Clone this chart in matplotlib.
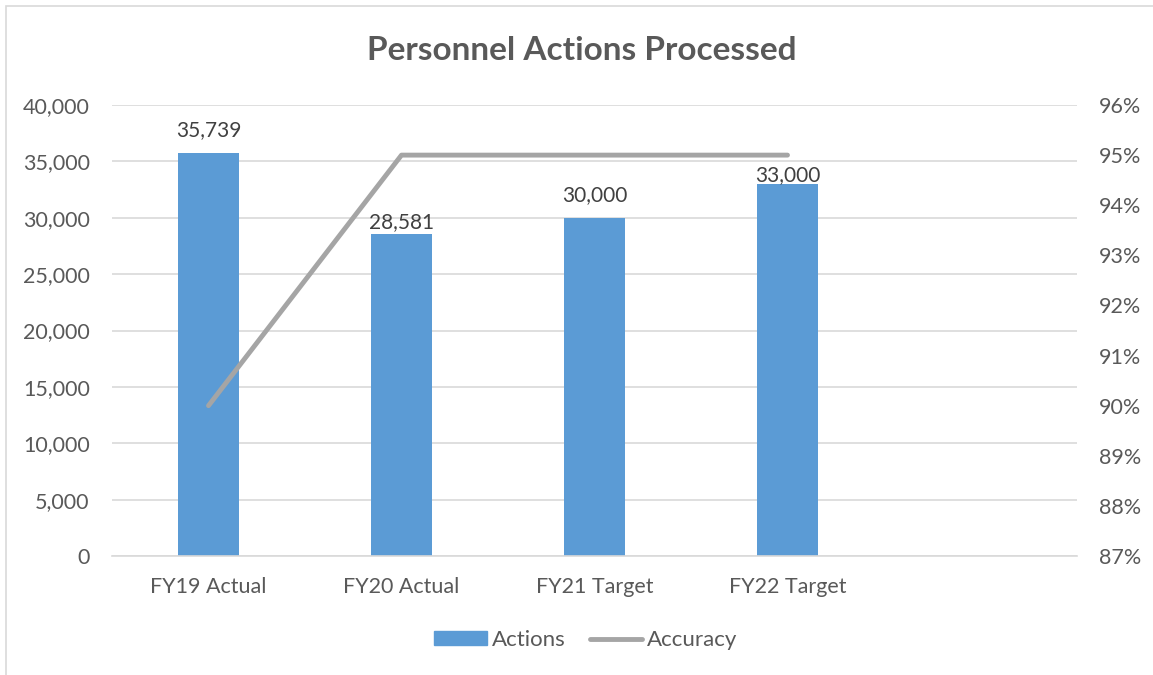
import matplotlib
matplotlib.use("Agg")
import matplotlib.pyplot as plt
from matplotlib.ticker import FuncFormatter, MultipleLocator
from matplotlib.patches import Rectangle
from matplotlib.lines import Line2D

categories = ["FY19 Actual", "FY20 Actual", "FY21 Target", "FY22 Target"]
actions = [35739, 28581, 30000, 33000]
accuracy = [0.90, 0.95, 0.95, 0.95]

# vertical label offsets (points) above each bar, as placed in the reference
label_offsets = [12.2, 4.3, 12.2, 2.2]

plt.rcParams['font.family'] = ['Lato', 'DejaVu Sans']
text_color = "#595959"
bar_color = "#5B9BD5"
line_color = "#A5A5A5"
grid_color = "#D9D9D9"

fig = plt.figure(figsize=(11.53, 6.75), dpi=100)
ax = fig.add_axes([112/1153, 1-556/675, (1077-112)/1153, (556-105)/675])
ax2 = ax.twinx()

x = list(range(len(categories)))
bars = ax.bar(x, actions, width=0.316, color=bar_color, zorder=2)
ax.set_xlim(-0.5, 4.5)
ax.set_ylim(0, 40000)
ax.yaxis.set_major_locator(MultipleLocator(5000))
ax.yaxis.set_major_formatter(FuncFormatter(lambda v, p: f"{int(v):,}"))
ax.set_xticks(x)
ax.set_xticklabels(categories)
ax.grid(axis='y', color=grid_color, linewidth=1.2, zorder=0)
ax.set_axisbelow(True)
for s in ax.spines.values():
    s.set_visible(False)
for s in ax2.spines.values():
    s.set_visible(False)
ax.spines['bottom'].set_visible(True)
ax.spines['bottom'].set_color(grid_color)
ax.spines['bottom'].set_linewidth(1.2)
ax.tick_params(axis='both', length=0, labelsize=15.5, colors=text_color)
ax.tick_params(axis='y', pad=16)
ax.tick_params(axis='x', pad=15)

for xi, v, off in zip(x, actions, label_offsets):
    ax.annotate(f"{v:,}", (xi, v), xytext=(0, off), textcoords='offset points',
                ha='center', va='baseline', fontsize=15, color="#404040", zorder=5)

ax2.plot(x, accuracy, color=line_color, linewidth=3.5, solid_capstyle='round', zorder=3)
ax2.set_ylim(0.87, 0.96)
ax2.yaxis.set_major_locator(MultipleLocator(0.01))
ax2.yaxis.set_major_formatter(FuncFormatter(lambda v, p: f"{round(v*100):d}%"))
ax2.tick_params(axis='y', length=0, labelsize=15.5, colors=text_color, pad=16)

fig.text(582/1153, 1-50/675, "Personnel Actions Processed", ha='center', va='center',
         fontsize=24, fontweight='bold', color=text_color)

handles = [Rectangle((0, 0), 1, 1, color=bar_color),
           Line2D([0], [0], color=line_color, linewidth=3.5, solid_capstyle='round')]
fig.legend(handles, ["Actions", "Accuracy"], loc='center', bbox_to_anchor=(586/1153, 1-640/675),
           ncol=2, frameon=False, fontsize=16, labelcolor=text_color,
           handlelength=2.35, handleheight=0.55, handletextpad=0.23, columnspacing=1.1)

fig.add_artist(Rectangle((6/1153, -0.1), 1.2, 1.1 - 6/675, transform=fig.transFigure,
                         fill=False, edgecolor=grid_color, linewidth=1.2))

fig.savefig("out.png", dpi=100)
